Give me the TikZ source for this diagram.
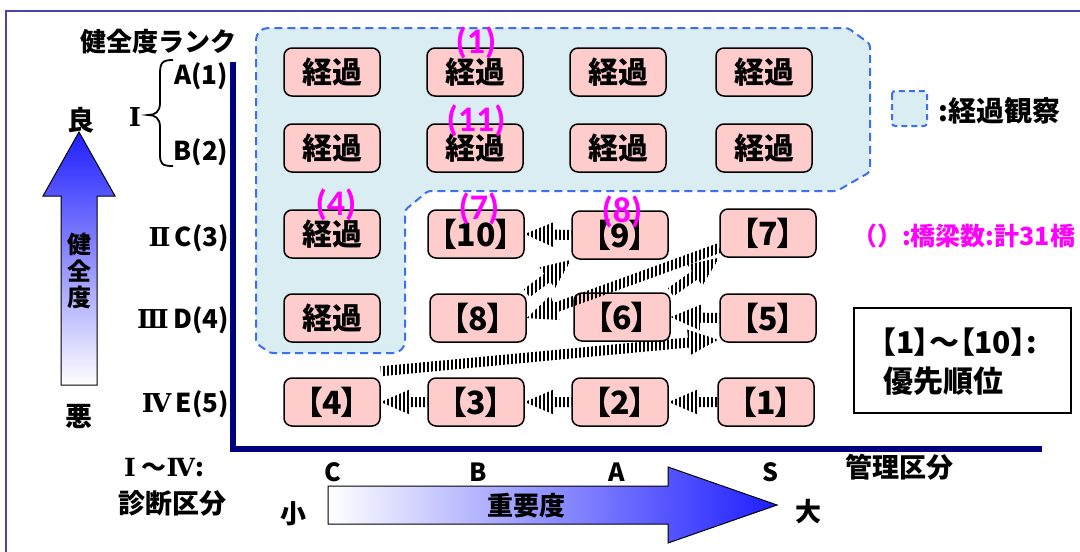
\documentclass[tikz,border=0pt]{standalone}
\usepackage{fontspec}
\setmainfont{Noto Sans CJK JP}
\newfontfamily\pfont{Noto Sans CJK JP}[RawFeature={+palt}]
\newfontfamily\calfont{Carlito}
\newfontfamily\romf{DejaVu Serif}
\usetikzlibrary{calc}
\definecolor{boxfill}{RGB}{255,204,204}
\definecolor{regfill}{RGB}{218,237,243}
\definecolor{regline}{RGB}{61,111,240}
\definecolor{navyax}{RGB}{0,0,128}
\definecolor{mag}{RGB}{255,0,255}
\definecolor{framecol}{RGB}{70,70,170}
\definecolor{arrblue}{RGB}{30,30,255}
\definecolor{midblue}{RGB}{165,165,255}
\tikzset{
 bx/.style={draw=black, line width=1.5pt, fill=boxfill, rounded corners=8pt, minimum width=96pt, minimum height=48pt, inner sep=0pt},
 kk/.style={bx, font=\fontsize{30}{30}\selectfont\bfseries},
 nn/.style={bx, font=\pfont\fontsize{32}{32}\selectfont\bfseries},
 lbl/.style={font=\fontsize{26}{26}\selectfont\bfseries, inner sep=0pt},
 mg/.style={text=mag, font=\calfont\fontsize{36}{36}\selectfont\bfseries, inner sep=0pt},
 region/.style={draw=regline, line width=2pt, dash pattern=on 8pt off 5pt, fill=regfill},
 stripeline/.style={line width=2pt, black},
}
\newcommand\sarrow[2]{%
 \coordinate (hb) at ($(#2)!30pt!(#1)$);
 \begin{scope}
 \clip ($(#1)!5pt!90:(#2)$) -- ($(hb)!5pt!90:(#2)$) -- ($(hb)!13pt!90:(#2)$) -- (#2) -- ($(hb)!13pt!-90:(#2)$) -- ($(hb)!5pt!-90:(#2)$) -- ($(#1)!5pt!-90:(#2)$) -- cycle;
 \foreach \i in {62,...,210} \draw[stripeline] (\i*4,0) -- (\i*4,552);
 \end{scope}
}
\newcommand\rn[1]{{\romf #1}}
\begin{document}
\begin{tikzpicture}[x=1pt,y=-1pt]
\useasboundingbox (0,0) rectangle (1080,552);
\fill[white] (0,0) rectangle (1080,552);
% outer frame
\draw[framecol, line width=2.5pt] (6,552) -- (6,11) -- (1080,11);
% observation region
\draw[region] (256,200) [rounded corners=12pt] -- (256,28) -- (600,28) [rounded corners=3pt] -- (848,28) -- (870,44) -- (870,172) -- (837,191) -- (428,191) -- (405,210) [rounded corners=12pt] -- (405,353) [rounded corners=3pt] -- (270,353) -- (256,343) -- cycle;
% axes
\draw[navyax, line width=6pt] (233,62) -- (233,449) -- (1042,449);
% boxes
\foreach \c/\x in {1/332,2/475,3/618,4/764}{
 \node[kk] (k1\c) at (\x,72) {経過};
 \node[kk] (k2\c) at (\x,148) {経過};
}
\node[kk] (k31) at (332,234) {経過};
\node[kk] (k41) at (332,318) {経過};
\node[nn] (n10) at (476,234) {【10】};
\node[nn] (n9) at (620,235) {【9】};
\node[nn] (n7) at (768,233) {【7】};
\node[nn] (n8) at (478,318) {【8】};
\node[nn] (n6) at (622,317) {【6】};
\node[nn] (n5) at (768,318) {【5】};
\node[nn] (n4) at (332,402) {【4】};
\node[nn] (n3) at (476,402) {【3】};
\node[nn] (n2) at (620,402) {【2】};
\node[nn] (n1) at (766,402) {【1】};
% striped arrows
\sarrow{n1.west}{n2.east}
\sarrow{n2.west}{n3.east}
\sarrow{n3.west}{n4.east}
\coordinate (t4) at ($(n4.north east)+(0,-6)$);
\coordinate (h5) at ($(n5.south west)+(-1,-3)$);
\sarrow{t4}{h5}
\sarrow{n5.west}{n6.east}
\sarrow{n6.north east}{n7.south west}
\coordinate (t7) at ($(n7.west)+(0,15)$);
\sarrow{t7}{n8.east}
\sarrow{n8.north east}{n9.south west}
\sarrow{n9.west}{n10.east}
% magenta counts
\node[mg] (c1) at (476,43) {(1)};
\node[mg] (c11) at (476,121) {(11)};
\node[mg] (c4) at (336,205) {(4)};
\node[mg] (c7) at (479,209) {(7)};
\node[mg] (c8) at (622,212) {(8)};
% left labels
\node[lbl] (rank) at (158,42) {健全度ランク};
\node[lbl] (ra) at (201,76) {A(1)};
\node[lbl] (rb) at (201,152) {B(2)};
\node[lbl] (r1) at (135,117) {\rn{Ⅰ}};
\draw[line width=1.8pt] (173,60) .. controls (162,60) and (160,63) .. (160,74) -- (160,103) .. controls (160,112) and (155,115) .. (148,115) .. controls (155,115) and (160,118) .. (160,127) -- (160,154) .. controls (160,164) and (162,166) .. (173,166);
\node[lbl, anchor=east] (rc) at (229,238) {\rn{Ⅱ}\,C(3)};
\node[lbl, anchor=east] (rd) at (229,320) {\rn{Ⅲ}\,D(4)};
\node[lbl, anchor=east] (re) at (229,404) {\rn{Ⅳ}\,E(5)};
% vertical arrow
\shade[draw=black, line width=1pt, top color=arrblue, middle color=midblue, bottom color=white] (79,132) -- (115,196) -- (97,196) -- (97,385) -- (61,385) -- (61,196) -- (43,196) -- cycle;
\node[lbl, font=\fontsize{27}{27}\selectfont\bfseries] (good) at (81,120) {良};
\node[lbl, font=\fontsize{27}{27}\selectfont\bfseries] (bad) at (79,416) {悪};
\node[align=center, inner sep=0pt, font=\fontsize{24}{26.5}\selectfont\bfseries] (vt) at (79,271) {健\\全\\度};
% bottom labels
\node[lbl, font=\fontsize{25}{25}\selectfont\bfseries] (rom) at (164,468) {\rn{Ⅰ}\ ～\rn{Ⅳ}:};
\node[lbl, font=\fontsize{27}{27}\selectfont\bfseries] (diag) at (172,503) {診断区分};
\node[lbl, font=\fontsize{27}{27}\selectfont\bfseries] (kanri) at (899,467) {管理区分};
\foreach \t/\x in {C/333,B/478,A/617,S/770}{
 \node[lbl, font=\fontsize{25}{25}\selectfont\bfseries] (g\t) at (\x,472) {\t};
}
% horizontal arrow
\shade[draw=black, line width=1pt, left color=white, middle color=midblue, right color=arrblue] (328,486) -- (668,486) -- (668,467) -- (777,505) -- (668,543) -- (668,524) -- (328,524) -- cycle;
\node[lbl] (imp) at (526,506) {重要度};
\node[lbl] (small) at (293,514) {小};
\node[lbl] (big) at (808,512) {大};
% legend
\draw[region, dash pattern=on 6pt off 4pt, rounded corners=3pt] (892,91) rectangle (927,126);
\node[lbl, font=\fontsize{28}{28}\selectfont\bfseries, anchor=west] (leg1) at (938,111) {:経過観察};
\node[lbl, text=mag, font=\fontsize{25}{25}\selectfont\bfseries, anchor=west] (leg2) at (852,236) {（）:橋梁数:計31橋};
\node[draw=black, line width=1.5pt, minimum width=217pt, minimum height=105pt] (legbox) at (962.5,360.5) {};
\node[lbl, font=\pfont\fontsize{30}{30}\selectfont\bfseries, anchor=west] (leg3) at (881,342) {【1】～【10】:};
\node[lbl, font=\pfont\fontsize{30}{30}\selectfont\bfseries, anchor=west] (leg4) at (883,381) {優先順位};
\end{tikzpicture}
\end{document}
